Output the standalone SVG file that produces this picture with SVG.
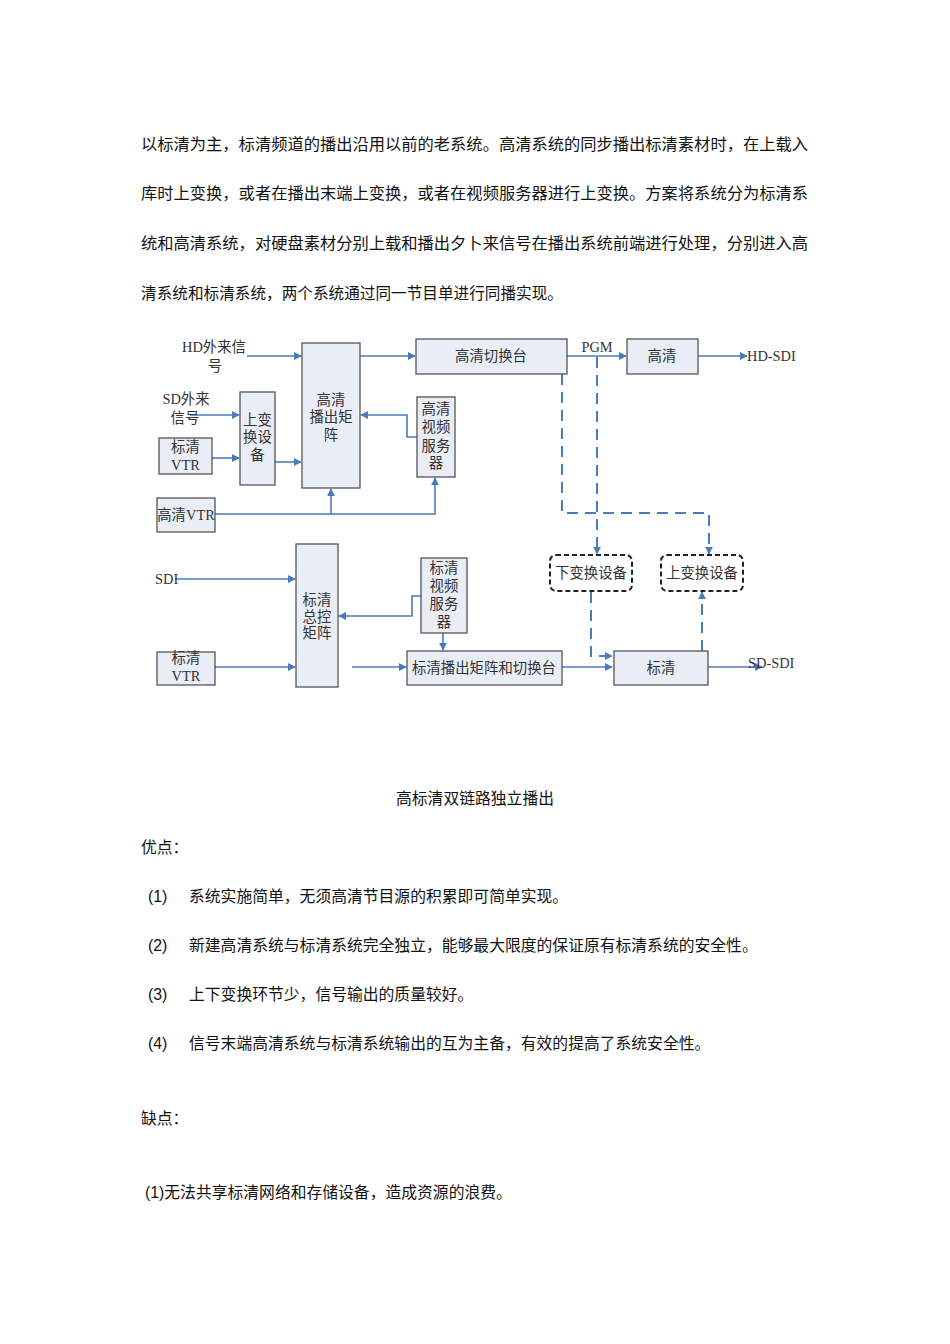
<svg xmlns="http://www.w3.org/2000/svg" width="950" height="1344" viewBox="0 0 950 1344">
<style>
.body{font-family:"Liberation Sans","Noto Sans CJK SC",sans-serif;font-size:15.8px;fill:#111}
.lbl{font-family:"Liberation Serif","Noto Sans CJK SC",serif;font-size:14.4px;fill:#333}
.box{fill:#e9edf6;stroke:#555;stroke-width:1.3}
.dbox{fill:#fff;stroke:#222;stroke-width:2;stroke-dasharray:5,3}
.ln{fill:none;stroke:#4a7bbd;stroke-width:1.6}
.dl{fill:none;stroke:#4a7bbd;stroke-width:2;stroke-dasharray:11,7}
</style>
<defs>
<marker id="ar" viewBox="0 0 10 10" refX="9" refY="5" markerWidth="8" markerHeight="8" markerUnits="userSpaceOnUse" orient="auto">
<path d="M0,0 L10,5 L0,10 z" fill="#4a7bbd"/>
</marker>
</defs>
<rect width="950" height="1344" fill="#fff"/>

<g id="para">
<text class="body" x="141" y="150" textLength="667" lengthAdjust="spacingAndGlyphs">以标清为主，标清频道的播出沿用以前的老系统。高清系统的同步播出标清素材时，在上载入</text>
<text class="body" x="141" y="199" textLength="667" lengthAdjust="spacingAndGlyphs">库时上变换，或者在播出末端上变换，或者在视频服务器进行上变换。方案将系统分为标清系</text>
<text class="body" x="141" y="249" textLength="667" lengthAdjust="spacingAndGlyphs">统和高清系统，对硬盘素材分别上载和播出夕卜来信号在播出系统前端进行处理，分别进入高</text>
<text class="body" x="141" y="299" textLength="422" lengthAdjust="spacingAndGlyphs">清系统和标清系统，两个系统通过同一节目单进行同播实现。</text>
</g>

<g id="connectors">
<path class="ln" d="M247,356 H301" marker-end="url(#ar)"/>
<path class="ln" d="M190,415 H239" marker-end="url(#ar)"/>
<path class="ln" d="M212,458 H239" marker-end="url(#ar)"/>
<path class="ln" d="M275,462 H301" marker-end="url(#ar)"/>
<path class="ln" d="M215,514 H435 V478" marker-end="url(#ar)"/>
<path class="ln" d="M331,514 V489" marker-end="url(#ar)"/>
<path class="ln" d="M417,437 H407 V415 H361" marker-end="url(#ar)"/>
<path class="ln" d="M360,356 H415" marker-end="url(#ar)"/>
<path class="ln" d="M567,356 H626" marker-end="url(#ar)"/>
<path class="ln" d="M698,356 H747" marker-end="url(#ar)"/>
<path class="dl" d="M562,374 V513 H709 V554" marker-end="url(#ar)"/>
<path class="dl" d="M597,357 V554" marker-end="url(#ar)"/>
<path class="dl" d="M591,592 V656 H612" marker-end="url(#ar)"/>
<path class="dl" d="M702,651 V592" marker-end="url(#ar)"/>
<path class="ln" d="M175,579 H295" marker-end="url(#ar)"/>
<path class="ln" d="M215,667 H295" marker-end="url(#ar)"/>
<path class="ln" d="M421,596 H412 V616 H339" marker-end="url(#ar)"/>
<path class="ln" d="M352,667 H406" marker-end="url(#ar)"/>
<path class="ln" d="M443,633 V650" marker-end="url(#ar)"/>
<path class="ln" d="M562,667 H612" marker-end="url(#ar)"/>
<path class="ln" d="M708,667 H762" marker-end="url(#ar)"/>
</g>

<g id="hd-in">
<text class="lbl" x="214" y="352" text-anchor="middle">HD外来信</text>
<text class="lbl" x="215" y="371" text-anchor="middle">号</text>
</g>
<g id="sd-in">
<text class="lbl" x="186" y="404" text-anchor="middle">SD外来</text>
<text class="lbl" x="185" y="423" text-anchor="middle">信号</text>
</g>
<g id="hd-matrix">
<rect class="box" x="302" y="343" width="58" height="145"/>
<text class="lbl" x="331" y="405" text-anchor="middle">高清</text>
<text class="lbl" x="331" y="422" text-anchor="middle">播出矩</text>
<text class="lbl" x="331" y="440" text-anchor="middle">阵</text>
</g>
<g id="upconv1">
<rect class="box" x="240" y="392" width="35" height="93"/>
<text class="lbl" x="257.5" y="425" text-anchor="middle">上变</text>
<text class="lbl" x="257.5" y="442" text-anchor="middle">换设</text>
<text class="lbl" x="257.5" y="460" text-anchor="middle">备</text>
</g>
<g id="sd-vtr1">
<rect class="box" x="159" y="438" width="53" height="36"/>
<text class="lbl" x="185.5" y="452" text-anchor="middle">标清</text>
<text class="lbl" x="185.5" y="470" text-anchor="middle">VTR</text>
</g>
<g id="hd-vtr">
<rect class="box" x="157" y="498" width="58" height="34"/>
<text class="lbl" x="186" y="520" text-anchor="middle">高清VTR</text>
</g>
<g id="hd-server">
<rect class="box" x="417" y="397" width="38" height="80"/>
<text class="lbl" x="436" y="414" text-anchor="middle">高清</text>
<text class="lbl" x="436" y="432" text-anchor="middle">视频</text>
<text class="lbl" x="436" y="451" text-anchor="middle">服务</text>
<text class="lbl" x="436" y="468" text-anchor="middle">器</text>
</g>
<g id="hd-switcher">
<rect class="box" x="416" y="339" width="151" height="35"/>
<text class="lbl" x="491" y="361" text-anchor="middle">高清切换台</text>
</g>
<g id="pgm">
<text class="lbl" x="597" y="352" text-anchor="middle">PGM</text>
</g>
<g id="hd-out">
<rect class="box" x="627" y="339" width="71" height="35"/>
<text class="lbl" x="662" y="361" text-anchor="middle">高清</text>
</g>
<g id="hd-sdi">
<text class="lbl" x="747" y="361">HD-SDI</text>
</g>
<g id="downconv">
<rect class="dbox" x="550" y="555" width="82" height="36" rx="6"/>
<text class="lbl" x="591" y="578" text-anchor="middle">下变换设备</text>
</g>
<g id="upconv2">
<rect class="dbox" x="661" y="555" width="82" height="36" rx="6"/>
<text class="lbl" x="702" y="578" text-anchor="middle">上变换设备</text>
</g>
<g id="sdi-in">
<text class="lbl" x="155" y="584">SDI</text>
</g>
<g id="sd-matrix">
<rect class="box" x="296" y="544" width="42" height="143"/>
<text class="lbl" x="317" y="605" text-anchor="middle">标清</text>
<text class="lbl" x="317" y="622" text-anchor="middle">总控</text>
<text class="lbl" x="317" y="638" text-anchor="middle">矩阵</text>
</g>
<g id="sd-vtr2">
<rect class="box" x="157" y="652" width="58" height="33"/>
<text class="lbl" x="186" y="663" text-anchor="middle">标清</text>
<text class="lbl" x="186" y="681" text-anchor="middle">VTR</text>
</g>
<g id="sd-server">
<rect class="box" x="421" y="558" width="46" height="75"/>
<text class="lbl" x="444" y="573" text-anchor="middle">标清</text>
<text class="lbl" x="444" y="591" text-anchor="middle">视频</text>
<text class="lbl" x="444" y="609" text-anchor="middle">服务</text>
<text class="lbl" x="444" y="627" text-anchor="middle">器</text>
</g>
<g id="sd-switcher">
<rect class="box" x="407" y="651" width="155" height="34"/>
<text class="lbl" x="484" y="673" text-anchor="middle">标清播出矩阵和切换台</text>
</g>
<g id="sd-out">
<rect class="box" x="614" y="651" width="94" height="34"/>
<text class="lbl" x="661" y="673" text-anchor="middle">标清</text>
</g>
<g id="sd-sdi">
<text class="lbl" x="748" y="668">SD-SDI</text>
</g>

<g id="notes">
<text class="body" x="475" y="804" text-anchor="middle">高标清双链路独立播出</text>
<text class="body" x="141" y="853">优点：</text>
<text class="body" x="148" y="902">(1)</text>
<text class="body" x="189" y="902">系统实施简单，无须高清节目源的积累即可简单实现。</text>
<text class="body" x="148" y="951">(2)</text>
<text class="body" x="189" y="951">新建高清系统与标清系统完全独立，能够最大限度的保证原有标清系统的安全性。</text>
<text class="body" x="148" y="1000">(3)</text>
<text class="body" x="189" y="1000">上下变换环节少，信号输出的质量较好。</text>
<text class="body" x="148" y="1049">(4)</text>
<text class="body" x="189" y="1049">信号末端高清系统与标清系统输出的互为主备，有效的提高了系统安全性。</text>
<text class="body" x="141" y="1124">缺点：</text>
<text class="body" x="145" y="1198">(1)无法共享标清网络和存储设备，造成资源的浪费。</text>
</g>
</svg>
